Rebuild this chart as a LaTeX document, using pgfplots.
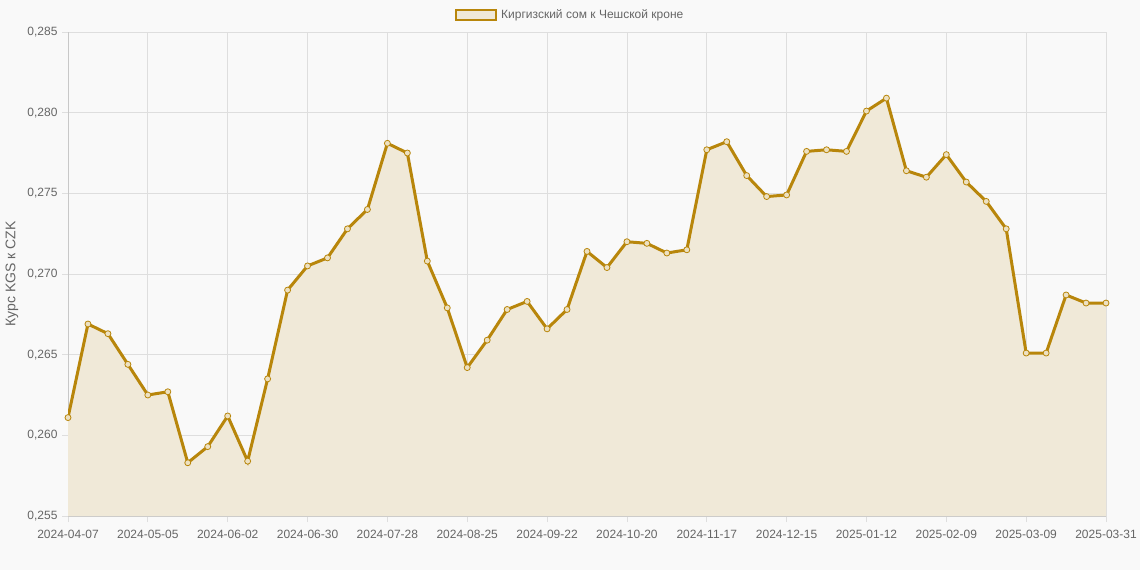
\documentclass[border=0pt]{standalone}
\usepackage{fontspec}
\setmainfont{Liberation Sans}
\usepackage{pgfplots}
\pgfplotsset{compat=1.18}
\definecolor{bg}{RGB}{249,249,249}
\definecolor{gold}{RGB}{184,134,11}
\definecolor{fillc}{RGB}{240,233,216}
\definecolor{gridc}{RGB}{222,222,222}
\definecolor{axc}{RGB}{200,200,200}
\definecolor{txt}{RGB}{102,102,102}
\pgfplotstableread{
i v
0 0.2611
1 0.2669
2 0.2663
3 0.2644
4 0.2625
5 0.2627
6 0.2583
7 0.2593
8 0.2612
9 0.2584
10 0.2635
11 0.2690
12 0.2705
13 0.2710
14 0.2728
15 0.2740
16 0.2781
17 0.2775
18 0.2708
19 0.2679
20 0.2642
21 0.2659
22 0.2678
23 0.2683
24 0.2666
25 0.2678
26 0.2714
27 0.2704
28 0.2720
29 0.2719
30 0.2713
31 0.2715
32 0.2777
33 0.2782
34 0.2761
35 0.2748
36 0.2749
37 0.2776
38 0.2777
39 0.2776
40 0.2801
41 0.2809
42 0.2764
43 0.2760
44 0.2774
45 0.2757
46 0.2745
47 0.2728
48 0.2651
49 0.2651
50 0.2687
51 0.2682
52 0.2682
}\rates
\begin{document}
\begin{tikzpicture}[x=1pt,y=1pt]
\path[use as bounding box, fill=bg] (0,0) rectangle (1140,570);
\begin{axis}[
  at={(68pt,54pt)}, anchor=south west,
  scale only axis, width=1038pt, height=484pt,
  xmin=0, xmax=52, ymin=0.255, ymax=0.285,
  xtick={0,4,8,12,16,20,24,28,32,36,40,44,48,52},
  xticklabels={2024-04-07,2024-05-05,2024-06-02,2024-06-30,2024-07-28,2024-08-25,2024-09-22,2024-10-20,2024-11-17,2024-12-15,2025-01-12,2025-02-09,2025-03-09,2025-03-31},
  ytick={0.255,0.26,0.265,0.27,0.275,0.28,0.285},
  yticklabel style={/pgf/number format/fixed, /pgf/number format/fixed zerofill, /pgf/number format/precision=3, /pgf/number format/use comma, xshift=-1pt},
  /pgf/number format/assume math mode=true,
  axis x line*=bottom, axis y line*=left,
  axis line style={draw=axc, line width=0.8pt, -},
  grid=major, major grid style={draw=gridc, line width=0.8pt},
  tick align=outside, major tick length=6pt, tick style={draw=gridc, line width=0.8pt},
  tick label style={text=txt, font=\fontsize{12}{14}\selectfont},
  xticklabel style={yshift=-5pt},
  ylabel={Курс KGS к CZK},
  ylabel style={at={(axis description cs:-0.0539,0.5)}, anchor=center, text=txt, font=\fontsize{14}{16}\selectfont},
  legend style={at={(axis description cs:0.4836,1.035)}, anchor=center, draw=none, fill=none, text=txt, font=\fontsize{12}{14}\selectfont},
  legend image code/.code={\draw[line width=2.5pt, draw=gold, fill=fillc] (0pt,-5pt) rectangle (40pt,5pt);},
]
\addplot[fill=fillc, draw=none, forget plot] table[x=i, y=v] {\rates} \closedcycle;
\addplot[draw=gold, line width=3pt, mark=*, mark size=3pt, mark options={draw=gold, fill=gold!25!white, line width=0.8pt}] table[x=i, y=v] {\rates};
\addlegendentry{\hspace{2pt}Киргизский сом к Чешской кроне}
\end{axis}
\end{tikzpicture}
\end{document}
